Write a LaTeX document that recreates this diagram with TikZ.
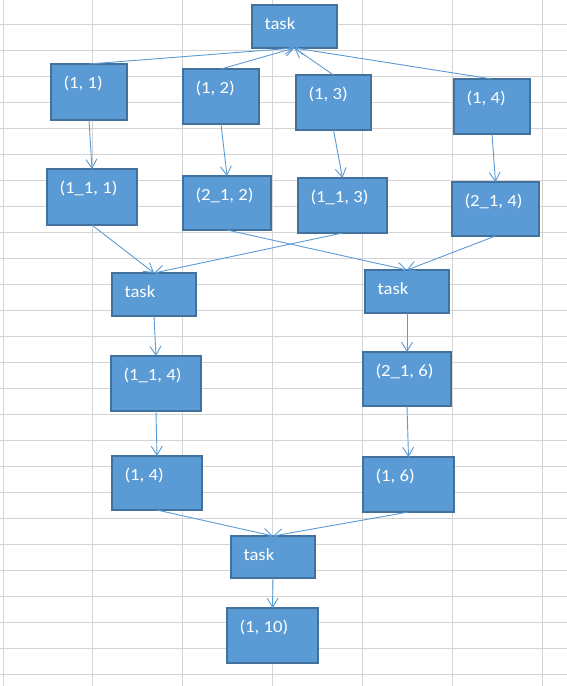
\documentclass[tikz,border=0pt]{standalone}
\usepackage{fontspec}
\newfontfamily\boxfont[FakeStretch=1.1]{Carlito}
\usetikzlibrary{arrows.meta,calc}
\definecolor{boxfill}{HTML}{5B9BD5}
\definecolor{boxline}{HTML}{41719C}
\definecolor{gridc}{HTML}{D4D4D4}
\tikzset{
  boxstyle/.style={draw=boxline, fill=boxfill, line width=2pt, inner sep=0pt, outer sep=0pt, rectangle},
  lbl/.style={text=white, font=\boxfont\fontsize{17}{19}\selectfont, inner sep=0pt, outer sep=0pt, anchor=base west},
  conn/.style={draw=boxfill, line width=0.9pt, -{Straight Barb[length=9pt,width=11pt]}},
  gridline/.style={draw=gridc, line width=1pt},
}
\newcommand{\bx}[6]{%
  \node[boxstyle, minimum width=#4pt, minimum height=#5pt] (#1) at (#2,#3) {};
  \node[lbl] (#1t) at ($(#1.north west)+(12.5,24)$) {#6};
}
\begin{document}
\begin{tikzpicture}[x=1pt,y=-1pt]
\useasboundingbox (0,0) rectangle (567,686);
\fill[white] (0,0) rectangle (567,686);
% grid
\foreach \gx in {3,92,182,272,362,452,542} \draw[gridline] (\gx,0) -- (\gx,686);
\foreach \gk in {0,...,25} \draw[gridline] (0,24+26*\gk) -- (567,24+26*\gk);
% boxes
\bx{tA}{294.5}{26.5}{85}{43}{task}
\bx{p11}{89}{92}{76}{56}{(1, 1)}
\bx{p12}{221}{96.5}{76}{55}{(1, 2)}
\bx{p13}{333.5}{102.5}{75}{55}{(1, 3)}
\bx{p14}{492}{106.5}{76}{55}{(1, 4)}
\bx{q11}{92}{197}{90}{56}{(1\_1, 1)}
\bx{q21}{227}{203}{88}{54}{(2\_1, 2)}
\bx{q13}{342.5}{205.5}{89}{55}{(1\_1, 3)}
\bx{q24}{495.5}{209}{87}{54}{(2\_1, 4)}
\bx{tL}{154}{294.5}{84}{43}{task}
\bx{tR}{407}{291.5}{84}{43}{task}
\bx{r14}{156}{383.5}{90}{55}{(1\_1, 4)}
\bx{r26}{407}{379}{88}{54}{(2\_1, 6)}
\bx{s14}{157}{483}{90}{54}{(1, 4)}
\bx{s16}{408.5}{484.5}{91}{55}{(1, 6)}
\bx{tB}{273}{557}{84}{42}{task}
\bx{u10}{272.5}{635.5}{91}{55}{(1, 10)}
% connectors
\draw[conn] (p11.north) -- (tA.south);
\draw[conn] (p12.north) -- (tA.south);
\draw[conn] (p13.north) -- (tA.south);
\draw[conn] (p14.north) -- (tA.south);
\draw[conn] (p11.south) -- (q11.north);
\draw[conn] (p12.south) -- (q21.north);
\draw[conn] (p13.south) -- (q13.north);
\draw[conn] (p14.south) -- (q24.north);
\draw[conn] (q11.south) -- (tL.north);
\draw[conn] (q13.south) -- (tL.north);
\draw[conn] (q21.south) -- (tR.north);
\draw[conn] (q24.south) -- (tR.north);
\draw[conn] (tL.south) -- (r14.north);
\draw[conn] (tR.south) -- (r26.north);
\draw[conn] (r14.south) -- (s14.north);
\draw[conn] (r26.south) -- (s16.north);
\draw[conn] (s14.south) -- (tB.north);
\draw[conn] (s16.south) -- (tB.north);
\draw[conn] (tB.south) -- (u10.north);
\end{tikzpicture}
\end{document}
